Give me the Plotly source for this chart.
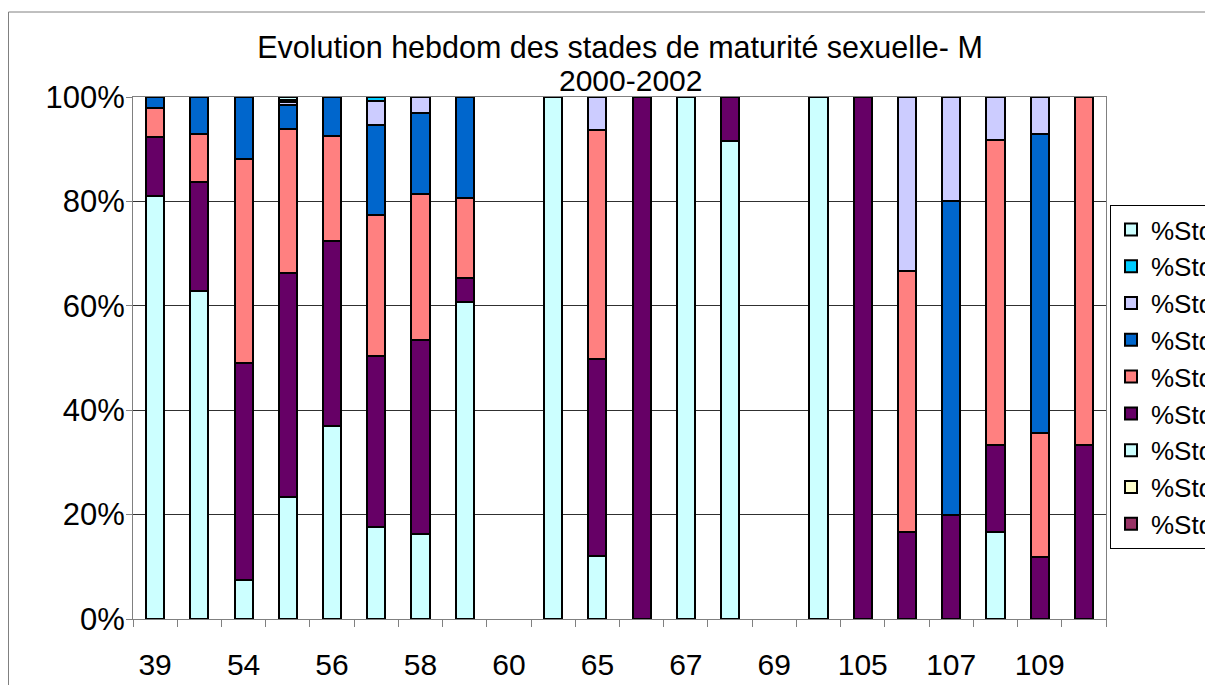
import plotly.graph_objects as go

weeks = ["39", "53", "54", "55", "56", "57", "58", "59", "60", "64", "65",
         "66", "67", "68", "69", "104", "105", "106", "107", "108", "109", "110"]
shown_labels = ["39", "", "54", "", "56", "", "58", "", "60", "", "65",
                "", "67", "", "69", "", "105", "", "107", "", "109", ""]
y_ticks = [0, 20, 40, 60, 80, 100]
y_tick_labels = ["0%", "20%", "40%", "60%", "80%", "100%"]

std0 = [0] * 22
std1 = [0] * 22
std2 = [81.0, 62.8, 7.4, 23.4, 37.0, 17.6, 16.2, 60.7, 0, 100, 12.1,
        0, 100, 91.6, 0, 100, 0, 0, 0, 16.7, 0, 0]
std3 = [11.3, 20.9, 41.7, 42.8, 35.5, 32.7, 37.3, 4.7, 0, 0, 37.8,
        100, 0, 8.4, 0, 0, 100, 16.7, 20.0, 16.7, 11.9, 33.3]
std4 = [5.6, 9.3, 39.0, 27.6, 20.0, 27.0, 28.0, 15.2, 0, 0, 43.8,
        0, 0, 0, 0, 0, 0, 50.0, 0, 58.3, 23.7, 66.7]
std5 = [2.1, 7.0, 11.9, 4.7, 7.5, 17.3, 15.5, 19.4, 0, 0, 0,
        0, 0, 0, 0, 0, 0, 0, 60.0, 0, 57.3, 0]
std6 = [0, 0, 0, 0.6, 0, 4.7, 3.0, 0, 0, 0, 6.3,
        0, 0, 0, 0, 0, 0, 33.3, 20.0, 8.3, 7.1, 0]
std7 = [0, 0, 0, 0.4, 0, 0.7, 0, 0, 0, 0, 0,
        0, 0, 0, 0, 0, 0, 0, 0, 0, 0, 0]
std9 = [0, 0, 0, 0.5, 0, 0, 0, 0, 0, 0, 0,
        0, 0, 0, 0, 0, 0, 0, 0, 0, 0, 0]

series = [
    ("%Std0", std0, "#993366"),
    ("%Std1", std1, "#FFFFCC"),
    ("%Std2", std2, "#CCFFFF"),
    ("%Std3", std3, "#660066"),
    ("%Std4", std4, "#FF8080"),
    ("%Std5", std5, "#0066CC"),
    ("%Std6", std6, "#CCCCFF"),
    ("%Std7", std7, "#00CCFF"),
    ("%Std9", std9, "#CCFFFF"),
]

FONT = "Arial, Liberation Sans, sans-serif"
OFF = 8  # page body margin
W, H = 1213 - OFF, 685 - OFF
# plot area in reference pixel coordinates
PL, PR, PT, PB = 133, 1106, 97, 619
ML, MT = PL - OFF, PT - OFF
MR = W - (PR - OFF)
MB = H - (PB - OFF)
pw = PR - PL
ph = PB - PT


def px_to_paper_x(px):
    return (px - PL) / pw


def py_to_paper_y(py):
    return (PB - py) / ph


fig = go.Figure()
for name, vals, col in series:
    fig.add_trace(go.Bar(
        x=weeks, y=[v if v > 0 else None for v in vals], name=name,
        marker=dict(color=col, line=dict(color="black", width=2)),
    ))

fig.update_layout(
    width=W, height=H,
    margin=dict(l=ML, r=MR, t=MT, b=MB, autoexpand=False),
    barmode="stack", bargap=0.59,
    paper_bgcolor="white", plot_bgcolor="white",
    font=dict(family=FONT, size=30, color="black"),
    title=dict(
        text="Evolution hebdom des stades de maturité sexuelle- M",
        x=(620 - OFF) / W, xanchor="center", xref="container",
        y=1 - (47 - OFF) / H, yanchor="middle", yref="container",
        font=dict(family=FONT, size=30.5, color="black"),
    ),
    annotations=[dict(
        text="2000-2002", xref="paper", yref="paper",
        x=px_to_paper_x(630), y=py_to_paper_y(81),
        xanchor="center", yanchor="middle", showarrow=False,
        font=dict(family=FONT, size=30, color="black"),
    )],
    showlegend=True,
    legend=dict(
        x=px_to_paper_x(1110), xanchor="left",
        y=py_to_paper_y(205), yanchor="top",
        bordercolor="black", borderwidth=1, bgcolor="white",
        font=dict(family=FONT, size=26, color="black"),
        traceorder="reversed",
    ),
    xaxis=dict(
        type="category", tickmode="array", tickvals=weeks, ticktext=shown_labels,
        tickson="boundaries", ticks="outside", ticklen=7, tickcolor="#808080",
        tickangle=0,
        showline=True, linecolor="#808080", linewidth=1, mirror=True,
        showgrid=False, tickfont=dict(size=30), ticklabelstandoff=19,
    ),
    yaxis=dict(
        range=[0, 100], tickmode="array", tickvals=y_ticks, ticktext=y_tick_labels,
        ticks="outside", ticklen=6, tickcolor="#808080",
        showline=True, linecolor="#808080", linewidth=1, mirror=True,
        showgrid=True, gridcolor="#303030", gridwidth=1,
        tickfont=dict(size=31), zeroline=False, ticklabelstandoff=-5,
    ),
    shapes=[dict(
        type="rect", xref="paper", yref="paper",
        x0=px_to_paper_x(OFF + 0.5), x1=px_to_paper_x(1240),
        y0=py_to_paper_y(720), y1=py_to_paper_y(12),
        line=dict(color="#808080", width=1), fillcolor="rgba(0,0,0,0)",
        layer="below",
    )],
)

fig.write_html("out.html")
